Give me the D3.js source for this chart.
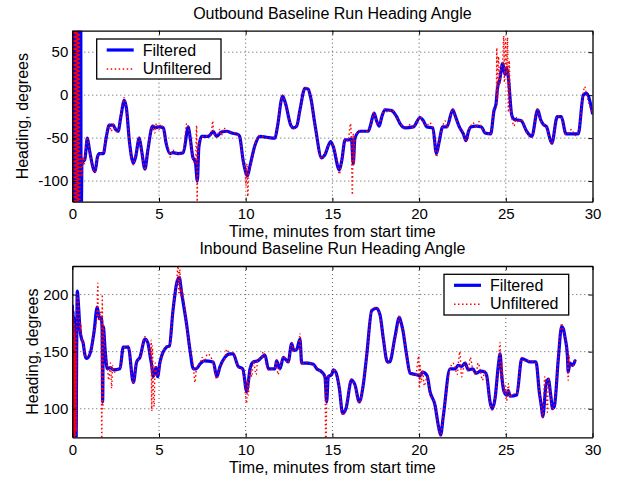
<!DOCTYPE html>
<html><head><meta charset="utf-8">
<script src="https://cdn.jsdelivr.net/npm/d3@7"></script>
<style>
body{margin:0;background:#fff;}
svg{display:block;font-family:"Liberation Sans",Arial,Helvetica,sans-serif;}
</style></head>
<body>
<script>
// ---------- DATA ----------
const xTicks = [0,5,10,15,20,25,30];
const topYTicks = [-100,-50,0,50];
const botYTicks = [100,150,200];
const seriesNames = ["Filtered","Unfiltered"];
const titles = ["Outbound Baseline Run Heading Angle","Inbound Baseline Run Heading Angle"];
const xLabel = "Time, minutes from start time";
const yLabel = "Heading, degrees";

// Outbound (top) filtered [minutes, degrees]
const outFiltered = [[0,60],[0.03,-170],[0.06,170],[0.09,-170],[0.12,170],[0.15,-170],[0.18,170],[0.21,-170],[0.24,170],[0.27,-170],[0.30,170],[0.33,-170],[0.36,170],[0.39,-170],[0.42,170],[0.45,-170],[0.48,170],[0.51,-170],[0.55,-80],
[0.63,-77],[0.72,-75],[0.87,-50],[1.0,-65],[1.31,-89],[1.45,-72],[1.56,-68],[1.79,-68],[1.95,-50],[2.13,-35],[2.35,-35],[2.5,-40],[2.64,-42],[2.8,-25],[3.0,-6],[3.12,-15],[3.3,-55],[3.52,-79],[3.65,-72],[3.86,-50],[4.0,-65],[4.19,-86],[4.35,-65],[4.63,-36],[4.8,-38],[5.0,-37],[5.25,-38],[5.4,-55],[5.63,-68],[5.8,-67],[6.1,-68],[6.4,-67],[6.69,-37],[6.8,-50],[6.95,-72],[7.1,-78],[7.21,-100],[7.3,-60],[7.46,-48],[7.84,-48],[8.0,-45],[8.13,-42],[8.32,-48],[8.6,-43],[8.9,-42],[9.2,-44],[9.57,-46],[9.65,-48],[9.86,-77],[10.02,-91],[10.1,-94],[10.25,-82],[10.54,-58],[10.82,-48],[11.2,-49],[11.69,-50],[11.82,-38],[12.13,-1],[12.3,-10],[12.6,-35],[12.75,-38],[12.94,-36],[13.13,-17],[13.42,8],[13.6,7],[13.75,-3],[14.0,-35],[14.38,-73],[14.55,-70],[14.9,-54],[15.05,-60],[15.4,-87],[15.55,-75],[15.73,-52],[15.9,-52],[16.1,-51],[16.2,-80],[16.3,-50],[16.59,-42],[16.8,-42],[17.07,-42],[17.2,-35],[17.4,-21],[17.55,-30],[17.7,-36],[17.85,-25],[18.03,-17],[18.42,-18],[18.7,-25],[18.9,-33],[19.19,-38],[19.67,-37],[20.05,-26],[20.25,-30],[20.44,-37],[20.79,-38],[21.0,-68],[21.15,-55],[21.36,-37],[21.6,-37],[21.94,-17],[22.1,-25],[22.32,-37],[22.55,-45],[22.7,-53],[22.85,-42],[22.98,-37],[23.3,-36],[23.6,-37],[23.8,-44],[24.13,-45],[24.32,-18],[24.43,-11],[24.52,8],[24.65,18],[24.82,37],[24.95,24],[25.05,32],[25.15,20],[25.34,-23],[25.47,-28],[25.72,-29],[25.9,-30],[26.2,-42],[26.5,-48],[26.84,-17],[27.0,-28],[27.16,-34],[27.35,-37],[27.65,-56],[27.97,-25],[28.2,-25],[28.47,-45],[28.8,-45],[29.18,-45],[29.47,0],[29.65,2],[30.0,-21]];

// Outbound (top) unfiltered
const outUnfiltered = [[0,170],[0.025,-170],[0.05,170],[0.075,-170],[0.1,170],[0.125,-170],[0.15,170],[0.175,-170],[0.2,170],[0.225,-170],[0.25,170],[0.275,-170],[0.3,170],[0.325,-170],[0.35,170],[0.375,-170],[0.4,170],[0.425,-170],[0.45,-90],[0.5,-70],[0.55,-95],[0.6,-72],[0.65,-82],[0.72,-74],[0.8,-55],[0.87,-49],[1.0,-66],[1.31,-90],[1.45,-71],[1.56,-69],[1.79,-67],[1.95,-49],[2.13,-34],[2.25,-42],[2.35,-33],[2.5,-41],[2.64,-43],[2.8,-24],[3.0,-3],[3.12,-16],[3.3,-56],[3.52,-81],[3.65,-71],[3.86,-49],[4.0,-66],[4.19,-87],[4.35,-64],[4.63,-35],[4.75,-44],[4.85,-33],[5.0,-40],[5.1,-34],[5.25,-39],[5.4,-56],[5.55,-62],[5.63,-72],[5.8,-64],[6.1,-69],[6.4,-66],[6.6,-33],[6.69,-38],[6.8,-51],[6.95,-73],[7.1,-80],[7.17,-35],[7.2,-124],[7.23,-90],[7.3,-58],[7.46,-49],[7.84,-47],[8.0,-46],[8.1,-30],[8.15,-44],[8.32,-49],[8.5,-40],[8.6,-47],[8.75,-38],[8.9,-43],[9.2,-43],[9.57,-47],[9.65,-49],[9.86,-78],[9.95,-85],[10.02,-105],[10.07,-80],[10.12,-118],[10.17,-90],[10.25,-84],[10.54,-57],[10.82,-47],[11.2,-50],[11.69,-49],[11.82,-37],[12.13,0],[12.3,-11],[12.6,-34],[12.75,-39],[12.94,-35],[13.13,-18],[13.42,9],[13.6,6],[13.75,-3],[14.0,-36],[14.38,-74],[14.55,-69],[14.9,-55],[15.05,-59],[15.2,-70],[15.3,-80],[15.4,-92],[15.55,-74],[15.73,-51],[15.9,-53],[16.05,-33],[16.1,-60],[16.15,-116],[16.2,-45],[16.25,-80],[16.3,-49],[16.59,-41],[16.8,-43],[17.07,-41],[17.2,-36],[17.4,-20],[17.55,-31],[17.7,-35],[17.85,-24],[18.03,-16],[18.2,-20],[18.42,-17],[18.6,-22],[18.7,-26],[18.9,-32],[19.19,-39],[19.4,-34],[19.67,-38],[20.05,-25],[20.25,-31],[20.44,-36],[20.6,-32],[20.79,-39],[20.9,-55],[21.0,-72],[21.15,-54],[21.36,-36],[21.5,-30],[21.6,-38],[21.94,-16],[22.1,-26],[22.32,-38],[22.55,-44],[22.7,-54],[22.85,-41],[22.98,-36],[23.1,-32],[23.3,-38],[23.45,-31],[23.6,-38],[23.8,-43],[24.13,-46],[24.32,-17],[24.45,-15],[24.48,55],[24.52,-5],[24.58,45],[24.65,12],[24.72,30],[24.82,38],[24.88,69],[24.92,15],[24.98,65],[25.05,25],[25.1,67],[25.15,-20],[25.2,40],[25.25,-5],[25.34,-24],[25.47,-36],[25.6,-26],[25.72,-32],[25.9,-28],[26.1,-38],[26.2,-43],[26.5,-49],[26.84,-15],[27.0,-30],[27.16,-33],[27.35,-38],[27.65,-57],[27.97,-24],[28.2,-26],[28.47,-46],[28.8,-40],[29.0,-47],[29.18,-44],[29.47,3],[29.55,10],[29.65,1],[30.0,-22]];

// Inbound (bottom) filtered
const inFiltered = [[0,190],[0.02,60],[0.04,185],[0.06,60],[0.08,180],[0.1,60],[0.12,175],[0.14,60],[0.16,170],[0.18,60],[0.2,150],[0.22,60],[0.24,120],[0.29,203],[0.36,190],[0.44,170],[0.54,161],[0.62,158],[0.73,147],[0.83,144],[1.06,150],[1.25,167],[1.44,189],[1.56,179],[1.67,180],[1.72,170],[1.75,106],[1.79,172],[1.89,152],[2.02,135],[2.2,136],[2.37,134],[2.75,135],[2.94,154],[3.23,154],[3.52,123],[3.71,141],[3.9,145],[4.19,161],[4.35,158],[4.5,145],[4.58,138],[4.66,128],[4.83,136],[4.92,128],[5.06,141],[5.44,154],[5.6,155],[5.8,185],[6.02,210],[6.17,215],[6.3,202],[6.6,173],[6.79,151],[6.98,135],[7.15,135],[7.36,139],[7.6,142],[8.13,141],[8.33,128],[8.52,137],[8.8,145],[9.09,148],[9.28,148],[9.57,137],[9.83,135],[10.06,115],[10.15,123],[10.25,135],[10.44,141],[10.7,142],[10.92,145],[11.11,147],[11.31,135],[11.69,135],[11.78,142],[11.98,135],[12.17,145],[12.45,141],[12.65,157],[12.78,151],[12.94,152],[13.13,161],[13.23,140],[13.5,140],[13.9,139],[14.1,135],[14.4,132],[14.57,128],[14.67,106],[14.76,128],[14.96,130],[15.05,134],[15.2,132],[15.4,118],[15.59,96],[15.78,100],[16.1,125],[16.3,121],[16.55,106],[16.78,121],[16.98,147],[17.27,186],[17.55,188],[17.75,182],[17.94,161],[18.17,141],[18.3,141],[18.61,163],[18.86,180],[18.95,176],[19.05,170],[19.28,147],[19.48,131],[19.8,130],[20.05,129],[20.2,132],[20.46,129],[20.63,115],[20.92,103],[21.1,86],[21.24,77],[21.4,94],[21.78,135],[22.07,135],[22.26,138],[22.45,137],[22.65,140],[22.84,134],[23.1,135],[23.28,131],[23.55,133],[23.8,132],[23.9,129],[24.09,106],[24.22,100],[24.38,109],[24.57,138],[24.67,148],[24.76,130],[24.9,115],[25.05,112],[25.15,116],[25.24,111],[25.63,112],[25.92,144],[26.1,143],[26.4,141],[26.74,141],[26.93,115],[27.07,100],[27.13,93],[27.32,121],[27.45,126],[27.59,112],[27.7,100],[27.8,102],[28.03,144],[28.22,172],[28.32,170],[28.41,163],[28.55,147],[28.6,132],[28.7,140],[28.86,138],[28.99,142]];

// Inbound (bottom) unfiltered
const inUnfiltered = [[0,190],[0.015,60],[0.03,188],[0.045,60],[0.06,183],[0.075,60],[0.09,178],[0.105,60],[0.12,175],[0.135,60],[0.15,168],[0.165,60],[0.18,160],[0.195,60],[0.21,150],[0.225,80],[0.24,130],[0.29,200],[0.36,192],[0.44,168],[0.5,175],[0.54,159],[0.62,160],[0.73,145],[0.83,146],[1.06,149],[1.25,168],[1.35,172],[1.44,190],[1.47,210],[1.5,180],[1.56,177],[1.62,185],[1.67,181],[1.7,60],[1.73,200],[1.76,100],[1.79,173],[1.89,150],[2.02,137],[2.1,125],[2.2,140],[2.27,118],[2.32,138],[2.37,132],[2.75,136],[2.94,153],[3.23,155],[3.52,122],[3.71,142],[3.9,144],[4.19,163],[4.35,157],[4.5,146],[4.55,160],[4.58,98],[4.62,155],[4.66,125],[4.72,102],[4.78,140],[4.83,134],[4.92,129],[5.06,140],[5.44,155],[5.6,154],[5.8,186],[6.02,212],[6.1,225],[6.15,200],[6.2,222],[6.25,198],[6.3,205],[6.6,171],[6.79,152],[6.98,137],[7.08,123],[7.15,134],[7.36,140],[7.5,145],[7.6,141],[7.8,148],[8.13,140],[8.33,126],[8.52,138],[8.8,144],[8.9,152],[9.09,147],[9.28,149],[9.57,136],[9.83,134],[10.06,105],[10.1,125],[10.15,112],[10.25,136],[10.35,128],[10.44,142],[10.6,130],[10.7,143],[10.92,144],[11.0,150],[11.11,146],[11.31,134],[11.69,136],[11.78,143],[11.85,130],[11.98,136],[12.17,146],[12.45,140],[12.65,158],[12.78,150],[12.94,153],[13.05,152],[13.13,166],[13.23,139],[13.5,141],[13.9,138],[14.1,136],[14.4,131],[14.57,129],[14.62,60],[14.67,105],[14.76,129],[14.96,131],[15.05,135],[15.2,131],[15.4,119],[15.59,94],[15.78,101],[16.1,126],[16.3,120],[16.55,105],[16.78,122],[16.98,146],[17.27,187],[17.55,189],[17.75,181],[17.94,162],[18.17,140],[18.3,142],[18.61,162],[18.75,170],[18.86,182],[18.95,173],[19.05,171],[19.28,146],[19.48,132],[19.8,129],[19.98,146],[20.02,118],[20.05,139],[20.12,123],[20.2,134],[20.3,120],[20.46,128],[20.63,114],[20.92,104],[21.1,84],[21.24,76],[21.4,95],[21.78,134],[21.95,140],[22.07,136],[22.2,130],[22.26,139],[22.35,150],[22.45,128],[22.65,141],[22.84,133],[22.95,145],[23.1,134],[23.28,130],[23.4,140],[23.55,132],[23.65,125],[23.8,133],[23.9,128],[24.09,105],[24.22,99],[24.38,110],[24.57,137],[24.67,158],[24.72,125],[24.76,140],[24.9,114],[24.98,120],[25.05,107],[25.15,122],[25.24,110],[25.4,113],[25.63,113],[25.92,145],[26.1,142],[26.4,142],[26.74,140],[26.93,116],[27.07,99],[27.13,92],[27.25,128],[27.32,118],[27.4,97],[27.45,127],[27.59,111],[27.7,99],[27.8,103],[28.03,145],[28.22,175],[28.32,168],[28.41,164],[28.55,145],[28.6,125],[28.65,147],[28.7,138],[28.86,137],[28.99,143]];

// ---------- DRAW ----------
const W = 617, H = 480;
const FS = 16;      // titles, labels, legend
const TFS = 15;     // tick labels
const svg = d3.select("body").append("svg").attr("width", W).attr("height", H);

const panels = [
  {title: titles[0], yDomain: [-124, 75], yTicks: topYTicks, top: 30.7, bottom: 201.7, yLabelX: 28,
   filt: outFiltered, unf: outUnfiltered, legend: {x: 96.7, y: 39, w: 124.3, h: 40}},
  {title: titles[1], yDomain: [75, 225], yTicks: botYTicks, top: 266, bottom: 437.3, yLabelX: 38,
   filt: inFiltered, unf: inUnfiltered, legend: {x: 444, y: 274.3, w: 124.7, h: 40.7}}
];
const left = 72.3, right = 592.5;

panels.forEach((p, i) => {
  const x = d3.scaleLinear().domain([0, 30]).range([left, right]);
  const y = d3.scaleLinear().domain(p.yDomain).range([p.bottom, p.top]);
  const g = svg.append("g");
  const clipId = "clip" + i;
  svg.append("clipPath").attr("id", clipId).append("rect")
    .attr("x", left).attr("y", p.top).attr("width", right - left).attr("height", p.bottom - p.top);

  // grid
  const grid = g.append("g").attr("stroke", "#555").attr("stroke-width", 1).attr("stroke-dasharray", "1,3");
  xTicks.slice(1, -1).forEach(t => grid.append("line")
    .attr("x1", x(t)).attr("x2", x(t)).attr("y1", p.top).attr("y2", p.bottom));
  p.yTicks.forEach(t => grid.append("line")
    .attr("x1", left).attr("x2", right).attr("y1", y(t)).attr("y2", y(t)));

  const line = d3.line().x(d => x(d[0])).y(d => y(d[1])).curve(d3.curveMonotoneX);
  const data = g.append("g").attr("clip-path", `url(#${clipId})`);
  data.append("path").datum(p.filt).attr("d", line)
    .attr("fill", "none").attr("stroke", "#0000ff").attr("stroke-width", 3.2)
    .attr("stroke-linejoin", "round").attr("stroke-linecap", "round");
  data.append("path").datum(p.unf).attr("d", line)
    .attr("fill", "none").attr("stroke", "#ff0000").attr("stroke-width", 1.4)
    .attr("stroke-dasharray", "1.5,2.5");

  // axes (D3 axis generators, ticks inward)
  const axB = g.append("g").attr("transform", `translate(0,${p.bottom})`)
    .call(d3.axisBottom(x).tickValues(xTicks).tickSizeInner(-4).tickSizeOuter(0).tickPadding(7));
  const axT = g.append("g").attr("transform", `translate(0,${p.top})`)
    .call(d3.axisTop(x).tickValues(xTicks).tickSizeInner(-4).tickSizeOuter(0).tickFormat(""));
  const axL = g.append("g").attr("transform", `translate(${left},0)`)
    .call(d3.axisLeft(y).tickValues(p.yTicks).tickSizeInner(-4).tickSizeOuter(0).tickPadding(4)
      .tickFormat(d => String(d)));
  const axR = g.append("g").attr("transform", `translate(${right},0)`)
    .call(d3.axisRight(y).tickValues(p.yTicks).tickSizeInner(-4).tickSizeOuter(0).tickFormat(""));
  [axB, axT, axL, axR].forEach(a => {
    a.select(".domain").attr("stroke", "#000").attr("stroke-width", 1.3);
    a.selectAll(".tick line").attr("stroke", "#000");
    a.selectAll("text").attr("font-size", TFS).attr("fill", "#000")
      .attr("font-family", '"Liberation Sans",Arial,sans-serif');
  });

  // titles and labels
  g.append("text").attr("x", (left + right) / 2).attr("y", p.top - 12)
    .attr("text-anchor", "middle").attr("font-size", FS).text(p.title);
  g.append("text").attr("x", (left + right) / 2).attr("y", p.bottom + 35.3)
    .attr("text-anchor", "middle").attr("font-size", FS).text(xLabel);
  g.append("text").attr("transform", `translate(${p.yLabelX},${(p.top + p.bottom) / 2}) rotate(-90)`)
    .attr("text-anchor", "middle").attr("font-size", FS).text(yLabel);

  // legend
  const L = p.legend;
  const lg = g.append("g").attr("transform", `translate(${L.x},${L.y})`);
  lg.append("rect").attr("width", L.w).attr("height", L.h)
    .attr("fill", "#fff").attr("stroke", "#000").attr("stroke-width", 1.3);
  const rows = [{name: seriesNames[0], color: "#0000ff", sw: 3.2, dash: null, dy: 11},
                {name: seriesNames[1], color: "#ff0000", sw: 1.4, dash: "1.5,2.5", dy: 30}];
  rows.forEach((r, k) => {
    lg.append("line").attr("x1", 10).attr("x2", 37).attr("y1", r.dy).attr("y2", r.dy)
      .attr("stroke", r.color).attr("stroke-width", r.sw).attr("stroke-dasharray", r.dash);
    lg.append("text").attr("x", 46).attr("y", 17 + k * 18).attr("font-size", FS).text(r.name);
  });
});
</script>
</body></html>
